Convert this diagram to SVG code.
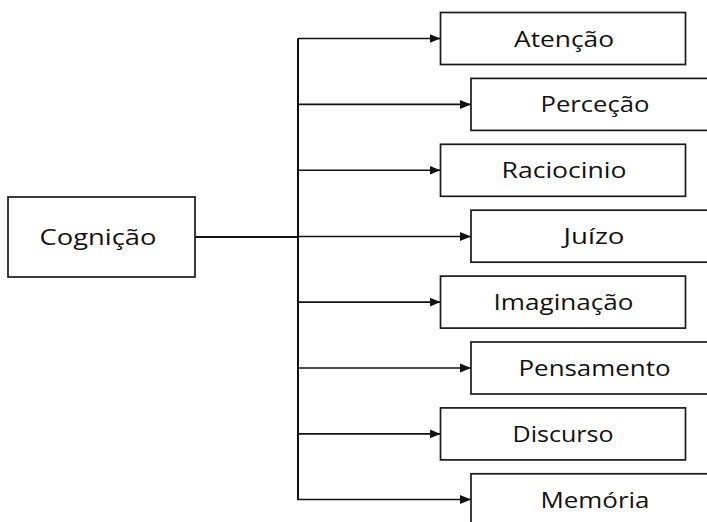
<svg xmlns="http://www.w3.org/2000/svg" width="707" height="522" viewBox="0 0 707 522">
  <style>
    .box { fill: #ffffff; stroke: #1a1a1a; stroke-width: 1.7; }
    .lbl { font-family: "Open Sans", "DejaVu Sans", sans-serif; font-size: 22.5px; fill: #111111; text-anchor: middle; }
    .link { fill: none; stroke: #111111; stroke-width: 1.6; }
    .trunk { fill: none; stroke: #111111; stroke-width: 2; }
  </style>
  <defs>
    <marker id="arrow" markerUnits="userSpaceOnUse" markerWidth="12" markerHeight="10" refX="11" refY="5" orient="auto">
      <path d="M0,0.5 L11,5 L0,9.5 z" fill="#111111"/>
    </marker>
  </defs>
  <rect width="707" height="522" fill="#ffffff"/>

  <!-- connectors -->
  <g id="connectors">
    <path class="trunk" d="M195,237 H298"/>
    <path class="trunk" d="M298,38.5 V500"/>
    <path class="link" d="M298,38.5 H440.5" marker-end="url(#arrow)"/>
    <path class="link" d="M298,104.4 H471" marker-end="url(#arrow)"/>
    <path class="link" d="M298,170.3 H440.5" marker-end="url(#arrow)"/>
    <path class="link" d="M298,236.5 H471" marker-end="url(#arrow)"/>
    <path class="link" d="M298,302.1 H440.5" marker-end="url(#arrow)"/>
    <path class="link" d="M298,368 H471" marker-end="url(#arrow)"/>
    <path class="link" d="M298,433.9 H440.5" marker-end="url(#arrow)"/>
    <path class="link" d="M298,499.5 H471" marker-end="url(#arrow)"/>
  </g>

  <!-- root node -->
  <g id="cognicao">
    <rect class="box" x="8" y="197" width="187" height="80"/>
    <text class="lbl" x="98" y="244.5" textLength="117" lengthAdjust="spacingAndGlyphs">Cognição</text>
  </g>

  <!-- child nodes -->
  <g id="atencao">
    <rect class="box" x="440.5" y="12.5" width="245" height="52"/>
    <text class="lbl" x="564" y="46.5" textLength="100" lengthAdjust="spacingAndGlyphs">Atenção</text>
  </g>
  <g id="percecao">
    <rect class="box" x="471" y="78.4" width="248" height="52"/>
    <text class="lbl" x="595" y="112.4" textLength="109" lengthAdjust="spacingAndGlyphs">Perceção</text>
  </g>
  <g id="raciocinio">
    <rect class="box" x="440.5" y="144.3" width="245" height="52"/>
    <text class="lbl" x="564" y="178.3" textLength="125" lengthAdjust="spacingAndGlyphs">Raciocinio</text>
  </g>
  <g id="juizo">
    <rect class="box" x="471" y="210.2" width="248" height="52"/>
    <text class="lbl" x="594" y="244.2" textLength="61" lengthAdjust="spacingAndGlyphs">Juízo</text>
  </g>
  <g id="imaginacao">
    <rect class="box" x="440.5" y="276.1" width="245" height="52"/>
    <text class="lbl" x="563.5" y="310.1" textLength="140" lengthAdjust="spacingAndGlyphs">Imaginação</text>
  </g>
  <g id="pensamento">
    <rect class="box" x="471" y="342" width="248" height="52"/>
    <text class="lbl" x="594.5" y="376" textLength="152" lengthAdjust="spacingAndGlyphs">Pensamento</text>
  </g>
  <g id="discurso">
    <rect class="box" x="440.5" y="407.9" width="245" height="52"/>
    <text class="lbl" x="563" y="441.9" textLength="101" lengthAdjust="spacingAndGlyphs">Discurso</text>
  </g>
  <g id="memoria">
    <rect class="box" x="471" y="473.8" width="248" height="52"/>
    <text class="lbl" x="595" y="507.8" textLength="109" lengthAdjust="spacingAndGlyphs">Memória</text>
  </g>
</svg>
